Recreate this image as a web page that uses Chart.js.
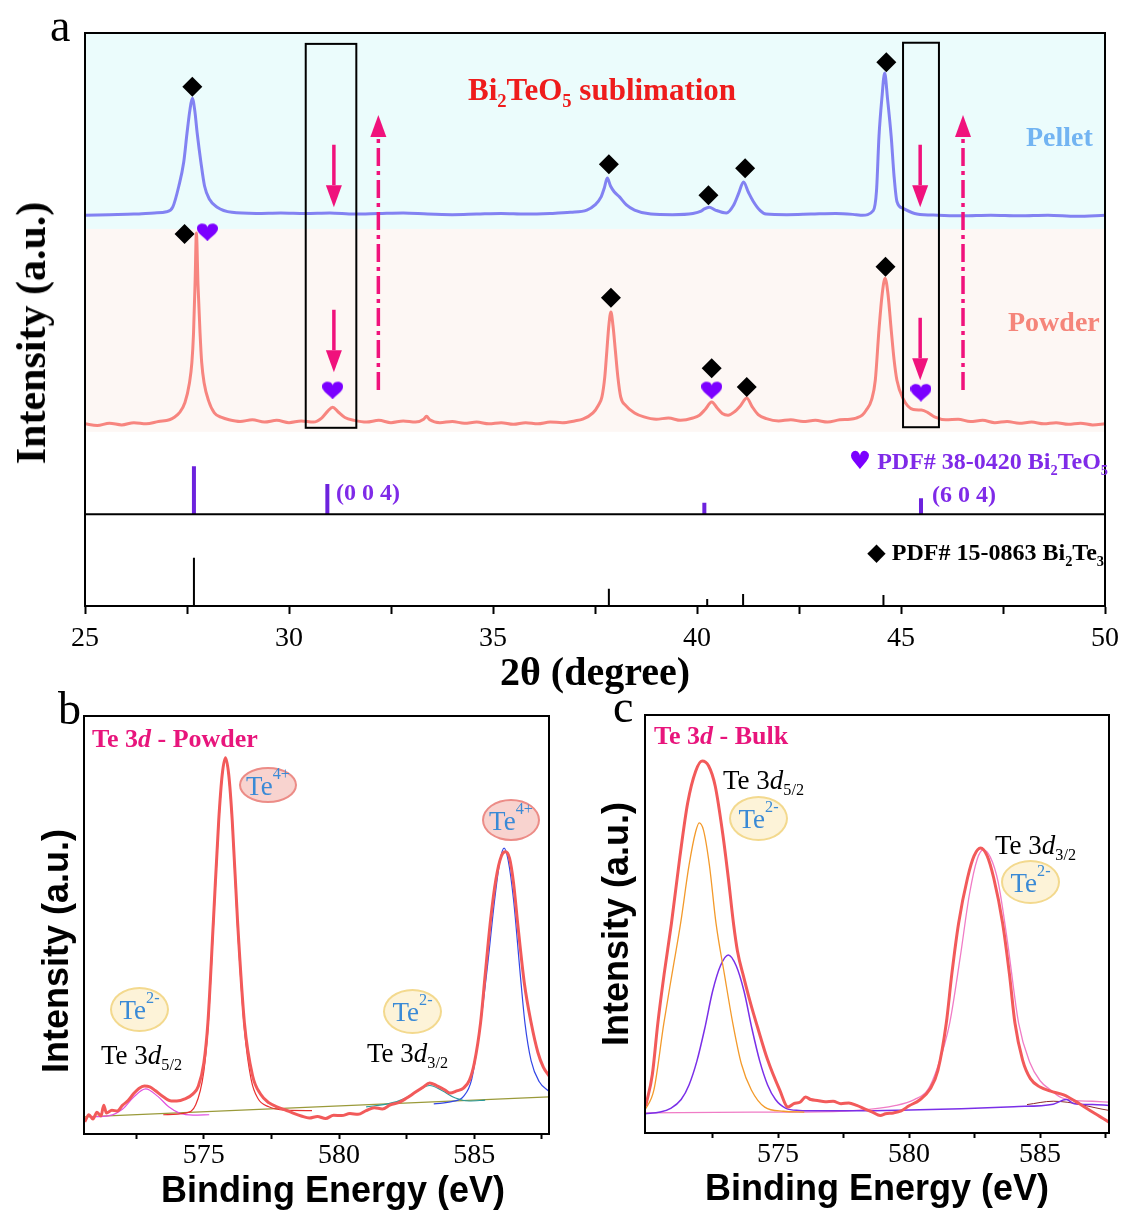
<!DOCTYPE html>
<html>
<head>
<meta charset="utf-8">
<script src="https://cdn.jsdelivr.net/npm/chart.js@4/dist/chart.umd.min.js"></script>
<style>
body { margin: 0; background: #fff; }
#wrap { position: relative; width: 1127px; height: 1218px; overflow: hidden; }
canvas { position: absolute; }
.t { position: absolute; line-height: 1; white-space: nowrap; font-family: 'Liberation Serif', 'Times New Roman', serif; }
.bd { font-weight: bold; }
.t sub, .t sup { font-size: 0.6em; line-height: 0; }
.rot { position: absolute; line-height: 1; white-space: nowrap; font-weight: bold; transform: translate(-50%, -50%) rotate(-90deg); }
.ell { position: absolute; border-radius: 50%; box-sizing: border-box; display: flex; align-items: center; justify-content: center;
       font-family: 'Liberation Serif', serif; font-size: 27px; color: #3a8ad6; line-height: 1; padding-top: 2px; }
.ell sup { font-size: 0.6em; line-height: 0; vertical-align: baseline; position: relative; top: -0.75em; }
.pk { background: #f8d3cf; border: 2px solid #ec8c87; }
.yl { background: #fdf3d8; border: 2px solid #f3d98e; }
.sym { font-family: 'DejaVu Sans', sans-serif; font-weight: normal; }
</style>
</head>
<body>
<div id="wrap">
  <canvas id="cA" width="1127" height="710" style="left:0;top:0"></canvas>
  <canvas id="cB" width="580" height="528" style="left:0;top:690px"></canvas>
  <canvas id="cC" width="547" height="528" style="left:580px;top:690px"></canvas>

  <div class="t" style="left:50px;top:3px;font-size:46px">a</div>
  <div class="rot" style="left:31px;top:333px;font-size:42px;font-family:'Liberation Serif',serif">Intensity (a.u.)</div>
  <div class="t bd" style="left:468px;top:74px;font-size:31px;color:#ee1c1c">Bi<sub>2</sub>TeO<sub>5</sub> sublimation</div>
  <div class="t bd" style="left:1026px;top:123px;font-size:28px;color:#72b4f2">Pellet</div>
  <div class="t bd" style="left:1008px;top:308px;font-size:28px;color:#f5857a">Powder</div>
  <div class="t bd" style="right:19px;top:448px;font-size:24px;color:#7f2ae8"><span class="sym" style="color:#7b00ff;font-size:25px">♥</span> PDF# 38-0420 Bi<sub>2</sub>TeO<sub>5</sub></div>
  <div class="t bd" style="left:336px;top:480px;font-size:24px;color:#7f2ae8">(0 0 4)</div>
  <div class="t bd" style="left:932px;top:482px;font-size:24px;color:#7f2ae8">(6 0 4)</div>
  <div class="t bd" style="right:23px;top:540px;font-size:24px;color:#000"><span class="sym" style="font-size:24px">◆</span> PDF# 15-0863 Bi<sub>2</sub>Te<sub>3</sub></div>

  <div class="t" style="left:58px;top:686px;font-size:46px">b</div>
  <div class="rot" style="left:56px;top:951px;font-size:36px;font-family:'Liberation Sans',Arial,sans-serif">Intensity (a.u.)</div>
  <div class="t" style="left:613px;top:684px;font-size:46px">c</div>
  <div class="t bd" style="left:92px;top:726px;font-size:26px;color:#e8157c">Te 3<i>d</i> - Powder</div>
  <div class="t bd" style="left:654px;top:723px;font-size:26px;color:#e8157c">Te 3<i>d</i> - Bulk</div>
  <div class="t" style="left:101px;top:1042px;font-size:27px">Te 3<i>d</i><sub>5/2</sub></div>
  <div class="t" style="left:367px;top:1040px;font-size:27px">Te 3<i>d</i><sub>3/2</sub></div>
  <div class="t" style="left:723px;top:767px;font-size:27px">Te 3<i>d</i><sub>5/2</sub></div>
  <div class="t" style="left:995px;top:832px;font-size:27px">Te 3<i>d</i><sub>3/2</sub></div>

  <div class="ell pk" style="left:239px;top:767px;width:58px;height:36px">Te<sup>4+</sup></div>
  <div class="ell pk" style="left:482px;top:799px;width:58px;height:42px">Te<sup>4+</sup></div>
  <div class="ell yl" style="left:110px;top:987px;width:59px;height:45px">Te<sup>2-</sup></div>
  <div class="ell yl" style="left:383px;top:989px;width:59px;height:45px">Te<sup>2-</sup></div>
  <div class="ell yl" style="left:729px;top:796px;width:59px;height:45px">Te<sup>2-</sup></div>
  <div class="ell yl" style="left:1001px;top:860px;width:59px;height:44px">Te<sup>2-</sup></div>
</div>

<script>
// ---------- panel a : XRD (x = 2theta, y = offset intensity) ----------
const pellet = [[25.0,68.2],[25.6,68.3],[26.2,68.4],[26.7,68.6],[27.0,68.8],[27.15,69.6],[27.3,73.3],[27.42,77.5],[27.5,82.5],[27.57,86.5],[27.63,88.6],[27.69,86.5],[27.75,82.5],[27.84,77.5],[27.93,73.3],[28.05,71.0],[28.24,69.6],[28.6,68.7],[29.2,68.5],[29.8,68.6],[30.4,68.5],[31.0,68.6],[31.6,68.4],[32.2,68.5],[32.8,68.6],[33.4,68.4],[34.0,68.3],[34.6,68.4],[35.2,68.5],[35.8,68.4],[36.4,68.5],[36.9,68.7],[37.3,69.1],[37.5,70.0],[37.65,71.4],[37.73,73.0],[37.8,74.7],[37.88,73.3],[37.97,72.3],[38.1,71.4],[38.27,70.0],[38.47,69.1],[38.87,68.4],[39.4,68.3],[39.9,68.5],[40.1,68.9],[40.18,69.3],[40.3,69.6],[40.45,69.1],[40.72,68.6],[40.9,70.0],[41.02,72.0],[41.14,74.0],[41.26,72.2],[41.38,70.6],[41.55,69.0],[41.69,68.4],[42.2,68.3],[42.8,68.4],[43.4,68.5],[43.9,68.3],[44.05,68.2],[44.32,69.0],[44.4,72.5],[44.46,81.9],[44.53,88.5],[44.6,93.0],[44.67,88.5],[44.76,81.9],[44.83,75.0],[44.9,70.6],[45.05,69.4],[45.39,68.4],[45.9,68.2],[46.5,68.1],[47.2,68.2],[47.9,68.1],[48.6,68.2],[49.3,68.0],[50.0,68.2]];

const powder = [[25.0,31.8],[25.3,31.5],[25.6,31.9],[25.9,31.6],[26.2,32.0],[26.5,31.8],[26.8,32.2],[27.07,32.5],[27.2,33.0],[27.31,33.7],[27.45,35.5],[27.56,38.9],[27.62,42.5],[27.66,47.6],[27.7,57.0],[27.73,65.1],[27.77,56.0],[27.82,47.6],[27.86,42.5],[27.92,38.9],[28.03,35.8],[28.17,33.7],[28.35,32.9],[28.53,32.5],[28.8,32.2],[29.1,32.5],[29.4,32.1],[29.7,32.4],[30.0,32.0],[30.3,32.3],[30.6,32.1],[30.8,32.8],[30.95,34.0],[31.07,34.7],[31.2,33.9],[31.37,32.9],[31.6,32.4],[31.9,32.1],[32.2,32.4],[32.5,32.0],[32.8,32.3],[33.1,32.1],[33.3,32.6],[33.37,33.1],[33.45,32.5],[33.7,32.0],[34.0,32.2],[34.3,31.9],[34.6,32.1],[34.9,31.8],[35.2,32.0],[35.5,31.7],[35.8,32.0],[36.1,31.8],[36.4,32.1],[36.7,32.0],[37.0,32.3],[37.2,32.6],[37.45,33.7],[37.58,35.0],[37.67,36.5],[37.74,40.0],[37.79,44.5],[37.84,49.0],[37.89,51.3],[37.94,49.0],[38.0,44.5],[38.06,40.0],[38.13,36.5],[38.25,35.0],[38.47,33.7],[38.7,33.0],[39.0,32.6],[39.3,32.8],[39.6,32.4],[39.9,32.8],[40.06,33.3],[40.2,34.3],[40.36,35.6],[40.5,34.5],[40.62,33.6],[40.76,33.3],[40.92,33.9],[41.07,35.0],[41.22,36.3],[41.35,34.8],[41.5,33.4],[41.7,32.7],[42.0,32.3],[42.3,32.5],[42.6,32.2],[42.9,32.4],[43.2,32.1],[43.5,32.5],[43.75,32.6],[43.9,32.8],[44.05,33.3],[44.15,34.2],[44.28,36.0],[44.37,39.4],[44.46,48.2],[44.54,54.5],[44.61,57.2],[44.68,54.5],[44.76,48.2],[44.83,43.0],[44.9,39.4],[45.05,36.2],[45.3,34.3],[45.5,34.2],[45.65,33.8],[45.82,33.0],[46.1,32.5],[46.4,32.6],[46.7,32.2],[47.0,32.4],[47.3,32.0],[47.6,32.2],[47.9,31.9],[48.2,32.1],[48.5,31.8],[48.8,32.0],[49.1,31.7],[49.4,31.9],[49.7,31.6],[50.0,31.8]];

// peak markers
const diamondMarks = [[27.63,90.6],[37.84,77.1],[40.28,71.7],[41.18,76.4],[44.64,94.9],[27.44,64.9],[37.89,53.8],[40.36,41.5],[41.22,38.2],[44.62,59.2]];
const heartMarks = [[28.0,65.3],[31.07,37.7],[40.36,37.7],[45.49,37.3]];

// standard patterns (PDF cards)
const pdfBi2TeO5 = [[27.67,24.4],[30.94,21.3],[40.18,18.0],[45.49,18.8]];
const pdfBi2TeO5Base = 16.0;
const pdfBi2Te3 = [[27.67,8.4],[37.84,3.0],[40.25,1.2],[41.13,2.1],[44.57,1.9]];

// shaded sample bands and annotations
const pelletBand = [65.8, 100];
const powderBand = [30.4, 65.8];
const boxes = [[30.41,31.65,31.1,98.1],[45.05,45.93,31.2,98.3]];
const downArrows = [[31.1,80.5,69.6],[31.1,51.7,40.8],[45.47,80.5,69.6],[45.47,50.3,39.4]];
const upArrows = [[32.19,37.7,85.7],[46.52,37.7,85.7]];

// ---------- panel b : XPS Te 3d powder ----------
const bRaw = [[570.6,2.9],[570.75,4.6],[570.9,3.6],[571.05,5.2],[571.2,4.3],[571.3,6.9],[571.4,5.0],[571.6,5.7],[571.8,5.5],[572.0,6.9],[572.2,8.0],[572.4,9.6],[572.6,10.9],[572.8,11.5],[573.0,11.3],[573.2,10.4],[573.5,8.9],[573.8,7.9],[574.0,7.9],[574.3,8.4],[574.6,9.6],[574.8,11.5],[575.0,17.0],[575.15,26.6],[575.35,50.5],[575.55,75.0],[575.68,86.0],[575.8,90.0],[575.92,86.0],[576.05,75.0],[576.25,50.5],[576.5,26.6],[576.8,14.0],[577.1,9.5],[577.4,7.5],[577.7,6.5],[578.0,5.8],[578.3,5.0],[578.6,4.3],[578.9,3.8],[579.2,4.2],[579.5,3.7],[579.8,4.5],[580.1,4.4],[580.4,4.9],[580.7,4.7],[581.0,5.6],[581.3,6.3],[581.6,6.0],[581.9,7.0],[582.2,7.5],[582.5,8.6],[582.8,9.9],[583.1,11.2],[583.35,12.2],[583.6,11.6],[583.9,10.6],[584.1,9.8],[584.35,10.3],[584.6,11.0],[584.82,12.9],[585.0,17.0],[585.23,26.6],[585.4,38.0],[585.6,51.2],[585.8,61.0],[586.0,66.5],[586.15,67.5],[586.3,66.0],[586.45,60.0],[586.6,50.5],[586.85,36.0],[587.1,26.6],[587.35,19.5],[587.55,16.0],[587.76,13.9]];
const bFit576 = [[573.5,4.6],[574.3,5.0],[574.7,7.0],[575.0,15.0],[575.15,25.0],[575.35,49.0],[575.55,74.0],[575.68,85.5],[575.8,89.5],[575.92,85.5],[576.05,74.0],[576.25,49.0],[576.5,25.0],[576.75,13.0],[577.0,8.5],[577.4,6.5],[578.0,5.7],[579.0,5.6]];
const bFit573 = [[570.8,4.1],[571.5,4.4],[572.0,6.0],[572.4,8.8],[572.85,10.8],[573.3,9.0],[573.7,6.5],[574.1,5.0],[574.6,4.5],[575.2,4.6]];
const bFit583 = [[581.0,6.5],[581.8,7.2],[582.4,8.4],[582.9,10.3],[583.35,11.6],[583.8,10.4],[584.3,8.6],[584.8,7.9],[585.4,8.1]];
const bFit586 = [[583.5,7.2],[584.2,7.8],[584.6,9.0],[584.9,13.0],[585.2,25.0],[585.5,41.0],[585.75,56.0],[585.95,65.5],[586.1,68.4],[586.25,65.5],[586.45,56.0],[586.7,38.0],[586.87,26.6],[587.1,17.5],[587.4,12.5],[587.76,10.2]];
const bBackground = [[570.6,4.1],[587.76,8.9]];

// ---------- panel c : XPS Te 3d bulk ----------
const cRaw = [[569.95,6.5],[570.2,14.0],[570.41,26.3],[570.65,38.0],[570.93,50.2],[571.25,66.0],[571.55,79.0],[571.85,86.5],[572.1,89.0],[572.35,87.8],[572.6,83.0],[572.9,71.0],[573.1,61.0],[573.3,50.0],[573.45,43.5],[573.7,37.0],[573.95,31.0],[574.23,25.0],[574.6,17.5],[575.06,10.3],[575.38,6.2],[575.6,7.0],[575.85,7.4],[576.05,8.6],[576.25,8.0],[576.5,7.8],[576.8,7.5],[577.1,7.6],[577.4,7.0],[577.7,7.2],[578.0,6.6],[578.3,5.8],[578.6,5.0],[578.9,4.2],[579.1,4.6],[579.4,4.8],[579.7,5.3],[580.0,6.5],[580.4,7.9],[580.8,10.5],[581.1,15.0],[581.42,26.3],[581.63,38.0],[581.89,50.2],[582.23,61.0],[582.48,66.3],[582.73,68.2],[582.98,66.3],[583.23,61.0],[583.57,50.2],[583.83,38.0],[584.04,26.3],[584.33,17.5],[584.63,13.0],[585.0,11.0],[585.4,10.0],[585.9,9.1],[586.5,7.0],[587.0,5.0],[587.63,2.6]];
const cFit572 = [[569.92,5.5],[570.26,10.3],[570.64,26.3],[570.95,38.0],[571.28,50.2],[571.6,64.0],[571.85,72.0],[571.99,74.2],[572.15,72.5],[572.38,64.0],[572.63,50.2],[572.95,38.0],[573.27,26.3],[573.6,16.5],[573.98,10.3],[574.49,6.2],[575.2,5.2],[576.0,5.0]];
const cFit573 = [[569.92,4.6],[570.5,5.0],[570.9,5.9],[571.3,8.0],[571.6,11.5],[571.9,17.2],[572.2,25.0],[572.5,33.9],[572.8,40.0],[573.1,42.6],[573.4,40.0],[573.7,33.9],[574.0,25.0],[574.3,17.2],[574.6,11.5],[574.9,8.0],[575.3,5.9],[575.8,5.4],[576.5,5.3],[578.0,5.3],[580.0,5.5],[582.0,5.8],[584.0,6.3],[585.5,6.9],[586.0,8.0],[586.3,7.0],[587.0,6.8],[587.63,6.6]];
const cFit583 = [[569.92,4.8],[574.0,5.0],[576.0,5.0],[578.0,5.4],[579.5,6.6],[580.2,8.0],[580.71,10.3],[581.1,16.0],[581.55,26.3],[581.95,42.0],[582.3,57.0],[582.6,65.5],[582.82,67.7],[583.1,66.0],[583.4,60.0],[583.75,46.0],[584.18,26.3],[584.6,17.0],[585.0,12.5],[585.4,10.3],[585.8,8.5],[586.3,7.8],[587.0,7.6],[587.63,7.4]];
const cBackground = [[584.5,6.8],[585.5,7.6],[587.63,5.4]];

// ---------- helpers ----------
const serif = "'Liberation Serif', 'Times New Roman', serif";
const sans = "'Liberation Sans', Arial, sans-serif";
Chart.defaults.color = '#000';
Chart.defaults.font.family = serif;

function xy(list) {
  return list.map(p => ({ x: p[0], y: p[1] }));
}

function curve(list, color, width) {
  return { data: xy(list), borderColor: color, borderWidth: width, pointRadius: 0,
           fill: false, cubicInterpolationMode: 'monotone' };
}

function sticks(list, base, color, width) {
  const pts = [];
  list.forEach(p => {
    pts.push({ x: p[0], y: base }, { x: p[0], y: p[1] }, { x: p[0], y: null });
  });
  return { data: pts, borderColor: color, borderWidth: width, pointRadius: 0, tension: 0, spanGaps: false };
}

function heartImage(color, w, h) {
  const cv = document.createElement('canvas');
  cv.width = w; cv.height = h;
  const g = cv.getContext('2d');
  g.fillStyle = color;
  g.beginPath();
  g.moveTo(w / 2, h * 0.25);
  g.bezierCurveTo(w * 0.45, 0, 0, 0, 0, h * 0.32);
  g.bezierCurveTo(0, h * 0.6, w * 0.35, h * 0.75, w / 2, h);
  g.bezierCurveTo(w * 0.65, h * 0.75, w, h * 0.6, w, h * 0.32);
  g.bezierCurveTo(w, 0, w * 0.55, 0, w / 2, h * 0.25);
  g.fill();
  return cv;
}

const framePlugin = {
  id: 'frame',
  afterDraw(chart) {
    const { ctx, chartArea: a } = chart;
    ctx.save();
    ctx.strokeStyle = '#000';
    ctx.lineWidth = 2;
    ctx.strokeRect(a.left, a.top, a.right - a.left, a.bottom - a.top);
    ctx.restore();
  }
};

function drawArrow(ctx, x, yFrom, yTo, dash) {
  const dir = yTo < yFrom ? -1 : 1;
  const head = 22, half = 8;
  ctx.save();
  ctx.strokeStyle = '#f0127c';
  ctx.fillStyle = '#f0127c';
  ctx.lineWidth = 3.5;
  ctx.setLineDash(dash);
  ctx.beginPath();
  ctx.moveTo(x, yFrom);
  ctx.lineTo(x, yTo - dir * head);
  ctx.stroke();
  ctx.setLineDash([]);
  ctx.beginPath();
  ctx.moveTo(x, yTo);
  ctx.lineTo(x - half, yTo - dir * head);
  ctx.lineTo(x + half, yTo - dir * head);
  ctx.closePath();
  ctx.fill();
  ctx.restore();
}

const xrdDecor = {
  id: 'xrdDecor',
  beforeDatasetsDraw(chart) {
    const { ctx, chartArea: a, scales: { y } } = chart;
    ctx.save();
    ctx.fillStyle = '#ebfcfc';
    ctx.fillRect(a.left, y.getPixelForValue(pelletBand[1]), a.right - a.left,
                 y.getPixelForValue(pelletBand[0]) - y.getPixelForValue(pelletBand[1]));
    ctx.fillStyle = '#fdf7f4';
    ctx.fillRect(a.left, y.getPixelForValue(powderBand[1]), a.right - a.left,
                 y.getPixelForValue(powderBand[0]) - y.getPixelForValue(powderBand[1]));
    ctx.restore();
  },
  afterDatasetsDraw(chart) {
    const { ctx, chartArea: a, scales: { x, y } } = chart;
    ctx.save();
    ctx.strokeStyle = '#000';
    ctx.lineWidth = 2;
    ctx.beginPath();
    ctx.moveTo(a.left, y.getPixelForValue(pdfBi2TeO5Base));
    ctx.lineTo(a.right, y.getPixelForValue(pdfBi2TeO5Base));
    ctx.stroke();
    boxes.forEach(b => {
      const x0 = x.getPixelForValue(b[0]), x1 = x.getPixelForValue(b[1]);
      const y0 = y.getPixelForValue(b[3]), y1 = y.getPixelForValue(b[2]);
      ctx.strokeRect(x0, y0, x1 - x0, y1 - y0);
    });
    ctx.restore();
    downArrows.forEach(r => drawArrow(ctx, x.getPixelForValue(r[0]), y.getPixelForValue(r[1]), y.getPixelForValue(r[2]), []));
    upArrows.forEach(r => drawArrow(ctx, x.getPixelForValue(r[0]), y.getPixelForValue(r[1]), y.getPixelForValue(r[2]), [18, 5, 4, 5]));
  }
};

// ---------- chart a ----------
new Chart(document.getElementById('cA'), {
  type: 'line',
  data: {
    datasets: [
      { data: xy(diamondMarks), showLine: false, pointStyle: 'rectRot', pointRadius: 10,
        pointBackgroundColor: '#000', pointBorderColor: '#000', pointBorderWidth: 0 },
      { data: xy(heartMarks), showLine: false, pointStyle: heartImage('#7b00ff', 21, 19), pointRadius: 10 },
      curve(pellet, '#8282f2', 3),
      curve(powder, '#f7857f', 3),
      sticks(pdfBi2TeO5, pdfBi2TeO5Base, '#6c22dd', 4),
      sticks(pdfBi2Te3, 0, '#000', 2)
    ]
  },
  options: {
    responsive: false, animation: false, devicePixelRatio: 1,
    layout: { padding: { top: 33, right: 16, left: 0, bottom: 0 } },
    plugins: { legend: { display: false }, tooltip: { enabled: false } },
    scales: {
      x: {
        type: 'linear', min: 25, max: 50,
        afterFit: s => { s.height = 104; },
        ticks: { stepSize: 2.5, autoSkip: false, maxRotation: 0, includeBounds: false, padding: 8,
                 font: { family: serif, size: 28 }, color: '#000',
                 callback: v => (v % 5 === 0 ? String(v) : '') },
        grid: { drawOnChartArea: false, tickLength: 8, tickWidth: 2, tickColor: '#000' },
        border: { color: '#000', width: 2 },
        title: { display: true, text: '2θ (degree)', color: '#000',
                 font: { family: serif, size: 40, weight: 'bold', lineHeight: 1.2 },
                 padding: { top: 0, bottom: 11 } }
      },
      y: {
        min: 0, max: 100,
        afterFit: s => { s.width = 85; },
        ticks: { display: false },
        grid: { display: false },
        border: { color: '#000', width: 2 }
      }
    }
  },
  plugins: [xrdDecor, framePlugin]
});

// ---------- charts b and c ----------
function xpsOptions(xmin, xmax, padTop, padRight, yWidth, xHeight, showTitles, yTitlePad) {
  return {
    responsive: false, animation: false, devicePixelRatio: 1,
    layout: { padding: { top: padTop, right: padRight, left: 0, bottom: 0 } },
    plugins: { legend: { display: false }, tooltip: { enabled: false } },
    scales: {
      x: {
        type: 'linear', min: xmin, max: xmax,
        afterFit: s => { s.height = xHeight; },
        afterBuildTicks: s => { s.ticks = s.ticks.filter(t => t.value >= 572); },
        ticks: { stepSize: 2.5, autoSkip: false, maxRotation: 0, includeBounds: false, padding: 0,
                 font: { family: serif, size: 28 }, color: '#000',
                 callback: v => (v % 5 === 0 ? String(v) : '') },
        grid: { drawOnChartArea: false, tickLength: 5, tickWidth: 2, tickColor: '#000' },
        border: { color: '#000', width: 2 },
        title: { display: showTitles, text: 'Binding Energy (eV)', color: '#000',
                 font: { family: sans, size: 36, weight: 'bold', lineHeight: 1.2 },
                 padding: { top: 0, bottom: 6 } }
      },
      y: {
        min: 0, max: 100,
        afterFit: s => { s.width = yWidth; },
        ticks: { display: false },
        grid: { display: false },
        border: { color: '#000', width: 2 },
        title: { display: showTitles, text: 'Intensity (a.u.)', color: '#000',
                 font: { family: sans, size: 36, weight: 'bold', lineHeight: 1.2 },
                 padding: { top: yTitlePad, bottom: 0 } }
      }
    }
  };
}

const optB = xpsOptions(570.57, 587.76, 26, 31, 84, 84, true, 34);
optB.scales.y.title.display = false;
// x title of panel b sits a little right of the plot centre in the original
optB.scales.x.title.display = false;

new Chart(document.getElementById('cB'), {
  type: 'line',
  data: {
    datasets: [
      curve(bRaw, '#f25a5a', 3),
      curve(bFit576, '#e83030', 1.2),
      curve(bFit573, '#e050e0', 1.2),
      curve(bFit583, '#2a9a9a', 1.2),
      curve(bFit586, '#3346e6', 1.2),
      curve(bBackground, '#9a9a3a', 1.2)
    ]
  },
  options: optB,
  plugins: [framePlugin]
});

new Chart(document.getElementById('cC'), {
  type: 'line',
  data: {
    datasets: [
      curve(cRaw, '#f25a5a', 3),
      curve(cFit572, '#f39a2b', 1.3),
      curve(cFit573, '#7a2fe8', 1.5),
      curve(cFit583, '#f07cc6', 1.3),
      curve(cBackground, '#8b2a2a', 1)
    ]
  },
  options: xpsOptions(569.92, 587.63, 25, 18, 65, 85, true, 16),
  plugins: [framePlugin]
});
</script>
<div class="t bd" style="position:absolute;left:333px;top:1190px;transform:translate(-50%,-50%);font-size:36px;font-family:'Liberation Sans',Arial,sans-serif">Binding Energy (eV)</div>
</body>
</html>
